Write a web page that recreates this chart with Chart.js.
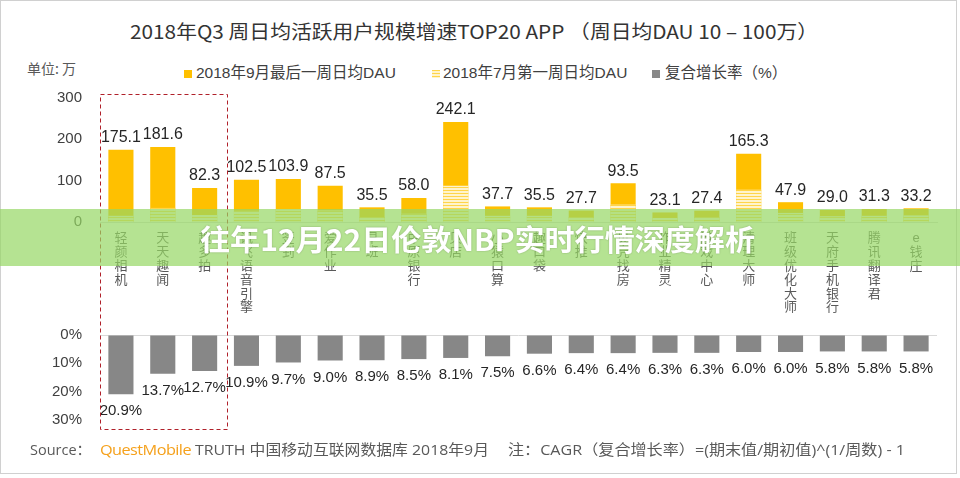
<!DOCTYPE html>
<html><head><meta charset="utf-8">
<script src="https://cdn.jsdelivr.net/npm/chart.js@4.4.0/dist/chart.umd.min.js"></script>
<style>
html,body{margin:0;padding:0;background:#fff;}
#wrap{position:relative;width:960px;height:478px;overflow:hidden;font-family:"Liberation Sans","Noto Sans CJK SC",sans-serif;background:#fff;}
#frame{position:absolute;left:0;top:0;width:955px;height:472px;border:1px solid #d0d0d0;}
.abs{position:absolute;white-space:nowrap;}
#title{left:130px;top:18px;font-family:"Noto Sans CJK SC",sans-serif;font-size:19px;color:#333;transform-origin:0 0;line-height:26px;}
#unit{left:27px;top:58px;font-size:14px;color:#595959;font-family:"Noto Sans CJK SC",sans-serif;}
.lg{font-size:15.5px;color:#404040;top:63px;line-height:20px;}
.sq{position:absolute;width:8px;height:8px;top:70px;}
#src span{position:absolute;top:440px;font-family:"Open Sans","Noto Sans CJK SC",sans-serif;font-size:14.5px;color:#595959;white-space:nowrap;line-height:20px;transform-origin:0 0;}
canvas{position:absolute;left:0;}
#banner{position:absolute;left:0;top:209px;width:960px;height:57px;background:rgba(150,215,100,0.7);}
#btxt{position:absolute;left:200px;top:220px;font-family:"Noto Sans CJK SC",sans-serif;font-weight:700;font-size:29px;color:#fff;line-height:36px;white-space:nowrap;transform-origin:0 0;text-shadow:0 0 2px rgba(0,0,0,0.25);}
</style></head><body>
<div id="wrap">
  <div id="frame"></div>
  <div id="title" class="abs" data-w="688">2018年Q3 周日均活跃用户规模增速TOP20 APP （周日均DAU 10 – 100万）</div>
  <div id="unit" class="abs">单位: 万</div>
  <div class="sq" style="left:184px;background:#ffc000;"></div>
  <div class="abs lg" style="left:196px;">2018年9月最后一周日均DAU</div>
  <div class="sq" style="left:432px;background:repeating-linear-gradient(to bottom,#ffd54a 0,#ffd54a 1px,#fff4cc 1px,#fff4cc 3px);"></div>
  <div class="abs lg" style="left:443px;">2018年7月第一周日均DAU</div>
  <div class="sq" style="left:652px;background:#888;"></div>
  <div class="abs lg" style="left:665px;">复合增长率（%）</div>
  <canvas id="top" width="960" height="235" style="top:85px;"></canvas>
  <canvas id="bottom" width="960" height="125" style="top:320px;"></canvas>
  <svg class="abs" style="left:0;top:0;" width="960" height="478"><rect x="100.5" y="94.5" width="127" height="335" fill="none" stroke="#b0202a" stroke-width="1" stroke-dasharray="4 3"/></svg>
  <div id="src">
    <span style="left:30px;">Source：</span>
    <span id="qm" style="left:100px;color:#f5a11c;letter-spacing:-0.5px;" data-w="91">QuestMobile</span>
    <span style="left:195px;" data-w="294">TRUTH 中国移动互联网数据库 2018年9月</span>
    <span style="left:508px;" data-w="397">注：CAGR（复合增长率）=(期末值/期初值)^(1/周数) - 1</span>
  </div>
  <div id="banner"></div>
  <div id="btxt" data-w="555">往年12月22日伦敦NBP实时行情深度解析</div>
</div>
<script>
const categories = ['轻颜相机','天天趣闻','趣多拍','讯飞语音引擎','签到','爱作业','早班','中原银行','贝店','小猿口算','趣口袋','快推','贝壳找房','作业精灵','游戏中心','清理大师','班级优化大师','天府手机银行','腾讯翻译君','e钱庄'];
const dauSep = [175.1,181.6,82.3,102.5,103.9,87.5,35.5,58.0,242.1,37.7,35.5,27.7,93.5,23.1,27.4,165.3,47.9,29.0,31.3,33.2];
const dauJul = [15,34,17,27,31,28,12,20,88,15,15,12,42,10,12,78,22,14,15,16];
const cagr = [20.9,13.7,12.7,10.9,9.7,9.0,8.9,8.5,8.1,7.5,6.6,6.4,6.4,6.3,6.3,6.0,6.0,5.8,5.8,5.8];
const dauTicks = [0,100,200,300];
const cagrTicks = [0,10,20,30];

function fit(){
  document.querySelectorAll('[data-w]').forEach(el=>{
    el.style.transform='none';
    const w = el.getBoundingClientRect().width;
    const t = parseFloat(el.dataset.w);
    if(w>0) el.style.transform='scaleX('+(t/w)+')';
  });
}
fit();
if(document.fonts && document.fonts.ready) document.fonts.ready.then(fit);

Chart.defaults.font.family = '"Liberation Sans","Noto Sans CJK SC",sans-serif';
Chart.defaults.animation = false;

function labelPlugin(dsIndex, font, color, offset, fmt){
  return {
    id:'lbl'+dsIndex+offset,
    afterDatasetsDraw(chart){
      const meta = chart.getDatasetMeta(dsIndex);
      const data = chart.data.datasets[dsIndex].data;
      const ctx = chart.ctx;
      ctx.save();
      ctx.font = font; ctx.fillStyle = color;
      ctx.textAlign='center'; ctx.textBaseline='middle';
      meta.data.forEach((bar,i)=>{ ctx.fillText(fmt(data[i]), bar.x, bar.y+offset); });
      ctx.restore();
    }
  };
}
function noPad(s){ s.paddingTop=0; s.paddingBottom=0; s.paddingLeft=0; s.paddingRight=0; }

const topCanvas = document.getElementById('top');
const pc = document.createElement('canvas'); pc.width=4; pc.height=3;
const pctx = pc.getContext('2d');
pctx.fillStyle='#fff4cc'; pctx.fillRect(0,0,4,3);
pctx.fillStyle='#ffd54a'; pctx.fillRect(0,0,4,1);
const stripe = topCanvas.getContext('2d').createPattern(pc,'repeat');

new Chart(topCanvas, {
  type:'bar',
  data:{
    labels: categories.map(s=>Array.from(s)),
    datasets:[
      {label:'2018年7月第一周日均DAU', data:dauJul, backgroundColor:stripe, borderWidth:0, grouped:false, order:0, barPercentage:0.6, categoryPercentage:1},
      {label:'2018年9月最后一周日均DAU', data:dauSep, backgroundColor:'#ffc000', borderWidth:0, grouped:false, order:1, barPercentage:0.6, categoryPercentage:1}
    ]
  },
  options:{
    responsive:false, maintainAspectRatio:false,
    layout:{autoPadding:false, padding:{left:0,right:23,top:13,bottom:0}},
    plugins:{legend:{display:false}, tooltip:{enabled:false}},
    scales:{
      x:{
        grid:{display:false, drawTicks:false},
        border:{display:true,color:'#d9d9d9'},
        ticks:{color:'#595959', font:{size:13, lineHeight:1.06}, padding:10, autoSkip:false, maxRotation:0, minRotation:0},
        afterFit(s){ s.height = 98; noPad(s); }
      },
      y:{
        min:0, max:300,
        afterBuildTicks(s){ s.ticks = dauTicks.map(v=>({value:v})); },
        grid:{display:false, drawTicks:false},
        border:{display:false},
        ticks:{color:'#404040', font:{size:15}, padding:18},
        afterFit(s){ s.width = 100; noPad(s); }
      }
    }
  },
  plugins:[labelPlugin(1,'16px "Liberation Sans"','#262626',-12,v=>v.toFixed(1))]
});

new Chart(document.getElementById('bottom'), {
  type:'bar',
  data:{
    labels: categories,
    datasets:[{label:'复合增长率（%）', data:cagr, backgroundColor:'#878787', barPercentage:0.6, categoryPercentage:1}]
  },
  options:{
    responsive:false, maintainAspectRatio:false,
    layout:{autoPadding:false, padding:{left:0,right:23,top:15,bottom:25}},
    plugins:{legend:{display:false}, tooltip:{enabled:false}},
    scales:{
      x:{display:false},
      y:{
        reverse:true, min:0, max:30,
        afterBuildTicks(s){ s.ticks = cagrTicks.map(v=>({value:v})); },
        grid:{drawTicks:false, color:c=> (c.tick && c.tick.value===0) ? '#d9d9d9' : 'rgba(0,0,0,0)'},
        border:{display:false},
        ticks:{color:'#404040', font:{size:15}, padding:18, callback:v=>v+'%'},
        afterFit(s){ s.width = 100; noPad(s); }
      }
    }
  },
  plugins:[labelPlugin(0,'15px "Liberation Sans"','#262626',17,v=>v.toFixed(1)+'%')]
});
</script>
</body></html>
